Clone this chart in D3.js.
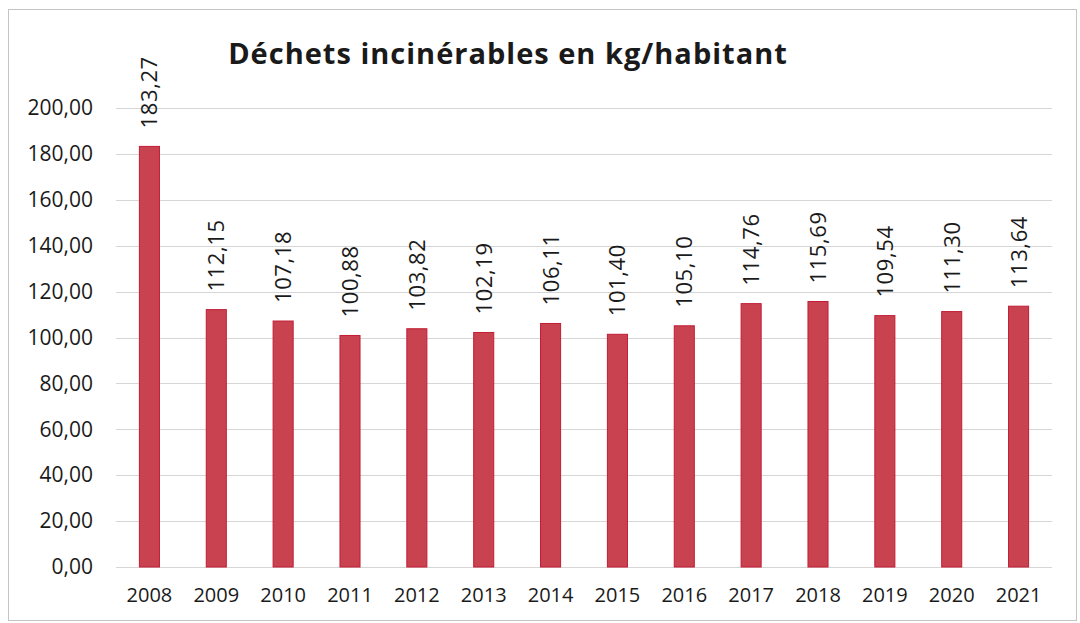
<!DOCTYPE html>
<html>
<head>
<meta charset="utf-8">
<script src="https://cdn.jsdelivr.net/npm/d3@7"></script>
<style>
  body { margin: 0; background: #fff; }
  text { font-family: "Open Sans", sans-serif; fill: #1a1a1a; }
</style>
</head>
<body>
<svg id="chart"></svg>
<script>
var years = ["2008","2009","2010","2011","2012","2013","2014","2015","2016","2017","2018","2019","2020","2021"];
var values = [183.27,112.15,107.18,100.88,103.82,102.19,106.11,101.40,105.10,114.76,115.69,109.54,111.30,113.64];
var yTicks = [0,20,40,60,80,100,120,140,160,180,200];
var title = "Déchets incinérables en kg/habitant";

var W = 1080, H = 623,
    margin = {top: 108, right: 28, bottom: 56, left: 116},
    width = W - margin.left - margin.right,
    height = H - margin.top - margin.bottom;

var fmt = function(v) { return d3.format(".2f")(v).replace(".", ","); };

var svg = d3.select("#chart").attr("width", W).attr("height", H);

// outer frame
svg.append("rect")
    .attr("x", 8.5).attr("y", 9.5)
    .attr("width", 1068).attr("height", 611)
    .attr("fill", "none")
    .attr("stroke", "#c4c4c4");

var g = svg.append("g")
    .attr("transform", "translate(" + margin.left + "," + margin.top + ")");

var x = d3.scaleBand().domain(years).range([0, width]).paddingInner(0.7).paddingOuter(0.35);
var y = d3.scaleLinear().domain([0, 200]).range([height, 0]);

// gridlines
g.selectAll(".grid")
    .data(yTicks)
  .enter().append("line")
    .attr("x1", 0).attr("x2", width)
    .attr("y1", function(d) { return Math.round(y(d)) + 0.5; })
    .attr("y2", function(d) { return Math.round(y(d)) + 0.5; })
    .attr("stroke", "#d6d6d6");

// y axis labels
var yAxis = g.append("g")
    .call(d3.axisLeft(y).tickValues(yTicks).tickFormat(fmt).tickSize(0).tickPadding(23));
yAxis.select(".domain").remove();
yAxis.selectAll("text")
    .style("font-family", "'Open Sans', sans-serif")
    .style("font-size", "21px")
    .attr("fill", "#1a1a1a");

// x axis labels
var xAxis = g.append("g")
    .attr("transform", "translate(0," + height + ")")
    .call(d3.axisBottom(x).tickSize(0).tickPadding(21));
xAxis.select(".domain").remove();
xAxis.selectAll("text")
    .style("font-family", "'Open Sans', sans-serif")
    .style("font-size", "20px")
    .attr("fill", "#1a1a1a");

// bars
g.selectAll(".bar")
    .data(values)
  .enter().append("rect")
    .attr("x", function(d, i) { return x(years[i]); })
    .attr("y", function(d) { return y(d); })
    .attr("width", x.bandwidth())
    .attr("height", function(d) { return height - y(d); })
    .attr("fill", "#c9424f")
    .attr("stroke", "#c21d35")
    .attr("stroke-width", 1);

// value labels (rotated)
g.selectAll(".lbl")
    .data(values)
  .enter().append("text")
    .attr("transform", function(d, i) {
        return "translate(" + (x(years[i]) + x.bandwidth() / 2 + 8) + "," + (y(d) - 18) + ") rotate(-90)";
    })
    .attr("text-anchor", "start")
    .style("font-size", "22px")
    .style("letter-spacing", "0.6px")
    .text(fmt);

// title
svg.append("text")
    .attr("x", 508).attr("y", 64)
    .attr("text-anchor", "middle")
    .style("font-size", "29px")
    .style("font-weight", "bold")
    .style("letter-spacing", "1px")
    .text(title);
</script>
</body>
</html>
